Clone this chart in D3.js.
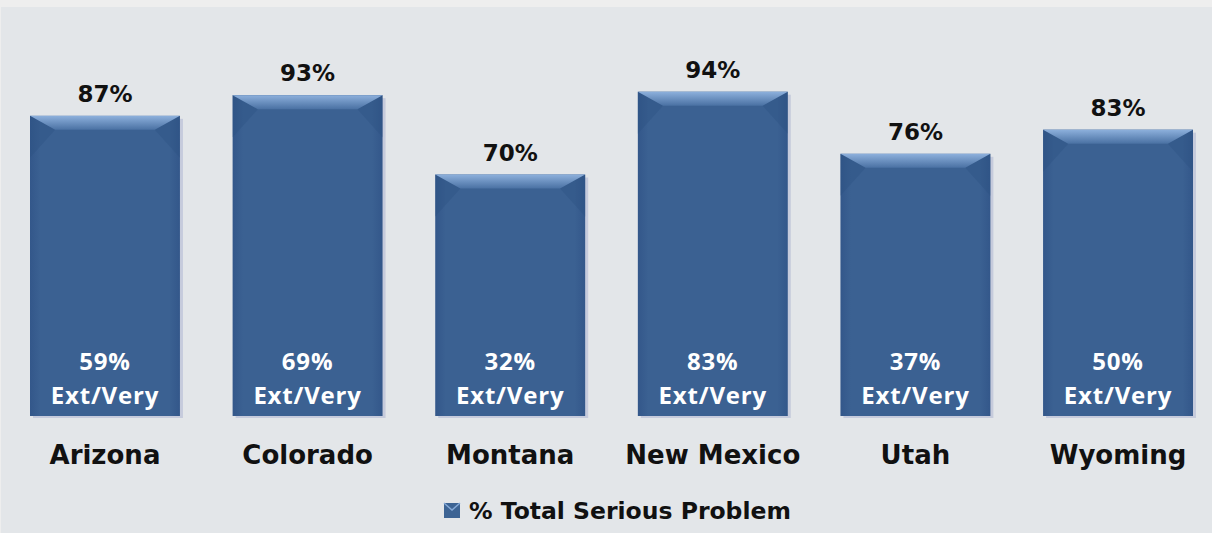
<html>
<head>
<script src="https://d3js.org/d3.v7.min.js"></script>
<style>
  body { margin: 0; background: #eeeeee; }
  svg { display: block; }
</style>
</head>
<body>
<svg></svg>
<script>
// state names + values
var states = ["Arizona", "Colorado", "Montana", "New Mexico", "Utah", "Wyoming"];
var totalSerious = [87, 93, 70, 94, 76, 83];
var extVery = [59, 69, 32, 83, 37, 50];
var seriesName = "% Total Serious Problem";

var width = 1212, height = 533;
var svg = d3.select("svg").attr("width", width).attr("height", height);

// plot background panel
svg.append("rect").attr("x", 1).attr("y", 7).attr("width", width - 1).attr("height", height - 7)
  .attr("fill", "#e3e6e9");

var x = d3.scaleBand().domain(states).range([30, 1193]).paddingInner(0.26).paddingOuter(0);
var y = d3.scaleLinear().domain([0, 100]).range([416, 71]);

var defs = svg.append("defs");
var topGrad = defs.append("linearGradient").attr("id", "topGrad")
  .attr("x1", 0).attr("y1", 0).attr("x2", 0).attr("y2", 1);
topGrad.append("stop").attr("offset", "0%").attr("stop-color", "#8db0dc");
topGrad.append("stop").attr("offset", "100%").attr("stop-color", "#4a71a3");
var bodyGrad = defs.append("linearGradient").attr("id", "bodyGrad")
  .attr("x1", 0).attr("y1", 0).attr("x2", 1).attr("y2", 0);
bodyGrad.append("stop").attr("offset", "0%").attr("stop-color", "#33578a");
bodyGrad.append("stop").attr("offset", "7%").attr("stop-color", "#3b6192");
bodyGrad.append("stop").attr("offset", "93%").attr("stop-color", "#3b6192");
bodyGrad.append("stop").attr("offset", "100%").attr("stop-color", "#33578a");

var data = states.map(function(s, i) {
  return { state: s, total: totalSerious[i], ext: extVery[i] };
});

var bw = x.bandwidth();
var bev = 14;

var bars = svg.selectAll(".bar").data(data).enter().append("g").attr("class", "bar");

// soft shadow on right
bars.append("rect")
  .attr("x", function(d) { return x(d.state) + 3; })
  .attr("y", function(d) { return y(d.total) + 3; })
  .attr("width", bw)
  .attr("height", function(d) { return y(0) - y(d.total) - 1; })
  .attr("fill", "#b9bfd6").attr("opacity", 0.7);

bars.append("rect")
  .attr("x", function(d) { return x(d.state); })
  .attr("y", function(d) { return y(d.total); })
  .attr("width", bw)
  .attr("height", function(d) { return y(0) - y(d.total); })
  .attr("fill", "url(#bodyGrad)");

// corner bevels
bars.append("polygon")
  .attr("points", function(d) {
    var x0 = x(d.state), y0 = y(d.total);
    return [[x0, y0], [x0 + bev * 1.8, y0 + bev], [x0, y0 + bev * 3]].join(" ");
  })
  .attr("fill", "#2c4f80").attr("opacity", 0.35);
bars.append("polygon")
  .attr("points", function(d) {
    var x0 = x(d.state) + bw, y0 = y(d.total);
    return [[x0, y0], [x0 - bev * 1.8, y0 + bev], [x0, y0 + bev * 3]].join(" ");
  })
  .attr("fill", "#2c4f80").attr("opacity", 0.35);

// top bevel
bars.append("polygon")
  .attr("points", function(d) {
    var x0 = x(d.state), y0 = y(d.total);
    return [[x0, y0], [x0 + bw, y0], [x0 + bw - bev * 1.8, y0 + bev], [x0 + bev * 1.8, y0 + bev]].join(" ");
  })
  .attr("fill", "url(#topGrad)");

// value labels above bars
bars.append("text")
  .attr("x", function(d) { return x(d.state) + bw / 2; })
  .attr("y", function(d) { return y(d.total) - 14; })
  .attr("text-anchor", "middle")
  .style("font-family", "DejaVu Sans, sans-serif")
  .style("font-weight", "bold").style("font-size", "23px").attr("fill", "#111")
  .text(function(d) { return d.total + "%"; });

// inner two-line labels
bars.append("text")
  .attr("x", function(d) { return x(d.state) + bw / 2; })
  .attr("y", 370)
  .attr("text-anchor", "middle")
  .style("font-family", "Open Sans, sans-serif")
  .style("font-weight", "bold").style("font-size", "24px").style("letter-spacing", "0.8px")
  .attr("fill", "#ffffff")
  .text(function(d) { return d.ext + "%"; });
bars.append("text")
  .attr("x", function(d) { return x(d.state) + bw / 2; })
  .attr("y", 403.5)
  .attr("text-anchor", "middle")
  .style("font-family", "Open Sans, sans-serif")
  .style("font-weight", "bold").style("font-size", "24px").style("letter-spacing", "0.8px")
  .attr("fill", "#ffffff")
  .text("Ext/Very");

// category axis (no line, no ticks)
var xAxis = svg.append("g").attr("transform", "translate(0," + y(0) + ")")
  .call(d3.axisBottom(x).tickSize(0).tickPadding(30));
xAxis.select(".domain").remove();
xAxis.selectAll("text")
  .style("font-family", "DejaVu Sans, sans-serif")
  .style("font-weight", "bold").style("font-size", "26px").attr("fill", "#111");

// legend
var leg = svg.append("g").attr("transform", "translate(444,503)");
leg.append("rect").attr("width", 16).attr("height", 15).attr("fill", "#3d6494");
leg.append("path").attr("d", "M0,0 L8,7 L16,0").attr("fill", "none").attr("stroke", "#86aad8").attr("stroke-width", 1.5);
leg.append("text").attr("x", 25).attr("y", 16)
  .style("font-family", "DejaVu Sans, sans-serif")
  .style("font-weight", "bold").style("font-size", "23.5px").attr("fill", "#111")
  .text(seriesName);
</script>
</body>
</html>
